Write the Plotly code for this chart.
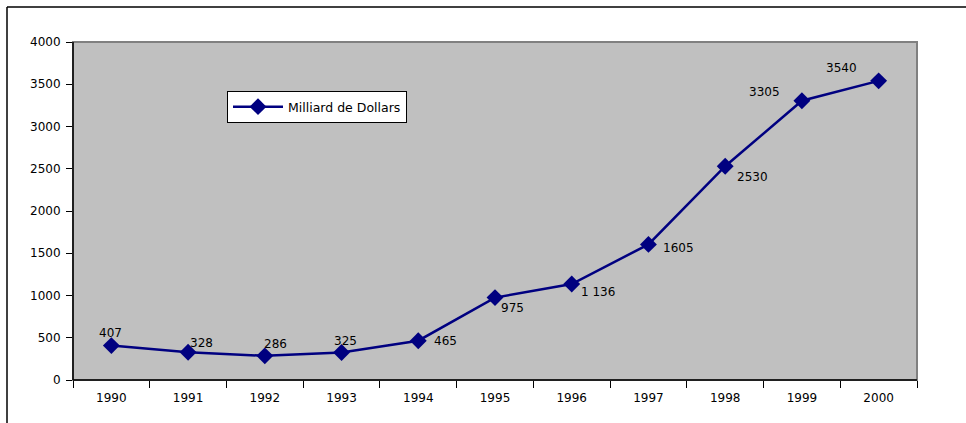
import plotly.graph_objects as go

years = ["1990", "1991", "1992", "1993", "1994", "1995", "1996", "1997", "1998", "1999", "2000"]
values = [407, 328, 286, 325, 465, 975, 1136, 1605, 2530, 3305, 3540]
labels = ["407", "328", "286", "325", "465", "975", "1 136", "1605", "2530", "3305", "3540"]
series_name = "Milliard de Dollars"
y_ticks = [0, 500, 1000, 1500, 2000, 2500, 3000, 3500, 4000]

# label offsets from each marker (pixels, +x right, +y down)
label_dx = [-1, 13, 11, 4, 27, 17, 26, 30, 27, -37, -37]
label_dy = [-13, -9, -12, -12, 0, 10, 8, 4, 11, -9, -13]

W, H = 966, 423
L, R, T, B = 73, 917, 42, 380
pw, ph = R - L, B - T

def px(x):
    return (x - L) / pw

def py(y):
    return (B - y) / ph

font = "DejaVu Sans, Verdana, sans-serif"

fig = go.Figure()
fig.add_trace(go.Scatter(
    x=years, y=values, mode="lines+markers", name=series_name,
    line=dict(color="#000080", width=2.5),
    marker=dict(symbol="diamond", size=13, color="#000080"),
    cliponaxis=False,
))

# category axis: annotations are positioned by category index
annotations = [
    dict(x=i, y=yv, text=t, showarrow=False, xanchor="center", yanchor="middle",
         xshift=dx, yshift=-dy, font=dict(family=font, size=12, color="black"))
    for i, (yv, t, dx, dy) in enumerate(zip(values, labels, label_dx, label_dy))
]

fig.update_layout(
    width=W, height=H,
    margin=dict(l=L, r=W - R, t=T, b=H - B),
    paper_bgcolor="white",
    plot_bgcolor="#C0C0C0",
    showlegend=True,
    annotations=annotations,
    legend=dict(x=px(227), y=py(91), xanchor="left", yanchor="top",
                bgcolor="white", bordercolor="black", borderwidth=1,
                itemwidth=50,
                font=dict(family=font, size=12.5, color="black")),
    font=dict(family=font, size=12, color="black"),
    xaxis=dict(type="category", range=[-0.5, 10.5], showgrid=False, zeroline=False,
               showline=False, ticks="outside", tickson="boundaries", ticklen=7,
               tickcolor="black", tickwidth=1, ticklabelstandoff=9,
               tickfont=dict(family=font, size=12)),
    yaxis=dict(range=[0, 4000], tickvals=y_ticks, showgrid=False, zeroline=False,
               showline=False, ticks="outside", ticklen=6, tickcolor="black",
               tickwidth=1, ticklabelstandoff=3, tickfont=dict(family=font, size=12)),
    shapes=[
        dict(type="rect", xref="paper", yref="paper", x0=0, x1=1, y0=0, y1=1,
             line=dict(color="#808080", width=2), layer="below"),
        dict(type="line", xref="paper", yref="paper", x0=0, x1=0, y0=0, y1=1,
             line=dict(color="black", width=1.5)),
        dict(type="line", xref="paper", yref="paper", x0=0, x1=1, y0=0, y1=0,
             line=dict(color="black", width=1.5)),
        dict(type="line", xref="paper", yref="paper", x0=px(7), x1=px(966), y0=py(7), y1=py(7),
             line=dict(color="black", width=1.5)),
        dict(type="line", xref="paper", yref="paper", x0=px(7), x1=px(7), y0=py(7), y1=py(423),
             line=dict(color="black", width=1.5)),
    ],
)

fig.write_html("out.html", config={"displayModeBar": False},
               post_script="document.body.style.margin='0';document.body.style.overflow='hidden';")
